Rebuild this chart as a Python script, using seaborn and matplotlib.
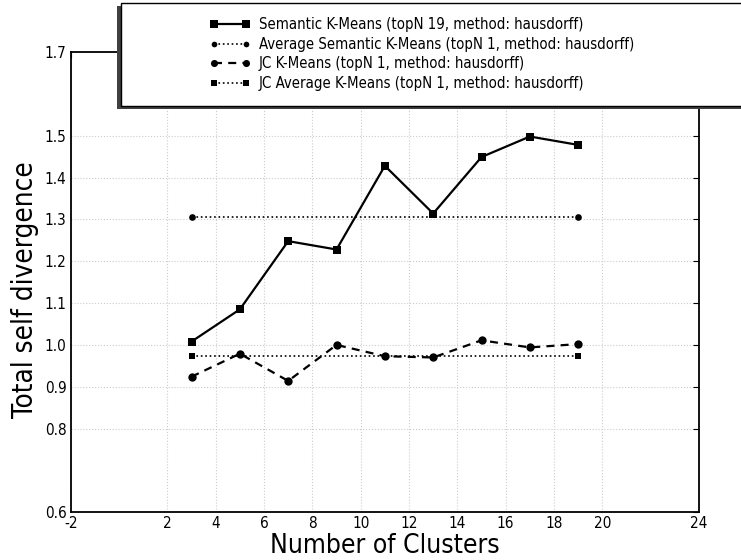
import matplotlib
matplotlib.use("Agg")
import matplotlib.pyplot as plt
from matplotlib.patches import Rectangle
import seaborn as sns

# ---- data ----
clusters = [3, 5, 7, 9, 11, 13, 15, 17, 19]
semantic_kmeans = [1.008, 1.085, 1.248, 1.228, 1.428, 1.314, 1.449, 1.498, 1.478]
jc_kmeans = [0.924, 0.979, 0.914, 1.000, 0.973, 0.970, 1.011, 0.994, 1.002]
avg_x = [3, 19]
avg_semantic = [1.305, 1.305]
avg_jc = [0.974, 0.974]

labels = [
    "Semantic K-Means (topN 19, method: hausdorff)",
    "Average Semantic K-Means (topN 1, method: hausdorff)",
    "JC K-Means (topN 1, method: hausdorff)",
    "JC Average K-Means (topN 1, method: hausdorff)",
]
xticks = [-2, 2, 4, 6, 8, 10, 12, 14, 16, 18, 20, 24]
yticks = [0.6, 0.8, 0.9, 1.0, 1.1, 1.2, 1.3, 1.4, 1.5, 1.7]
xlabel = "Number of Clusters"
ylabel = "Total self divergence"

sns.set_style("white")
plt.rcParams["font.family"] = ["DejaVu Sans"]
plt.rcParams["font.stretch"] = "condensed"
for k in ["text.color", "axes.labelcolor", "xtick.color", "ytick.color"]:
    plt.rcParams[k] = "black"

W, H = 741, 560
fig = plt.figure(figsize=(W / 100, H / 100), dpi=100)
ax = fig.add_axes([70.7 / W, 1 - 512.3 / H, (699 - 70.7) / W, (512.3 - 52) / H])

common = dict(ax=ax, color="black", markeredgecolor="black", markeredgewidth=0)
sns.lineplot(x=clusters, y=semantic_kmeans, marker="s", markersize=6.3,
             linewidth=1.6, linestyle="-", label=labels[0], **common)
sns.lineplot(x=avg_x, y=avg_semantic, marker="o", markersize=4.8,
             linewidth=1.2, linestyle=":", label=labels[1], **common)
sns.lineplot(x=clusters, y=jc_kmeans, marker="o", markersize=6.0,
             linewidth=1.6, linestyle=(0, (3.6, 2.8)), label=labels[2], **common)
sns.lineplot(x=avg_x, y=avg_jc, marker="s", markersize=4.8,
             linewidth=1.2, linestyle=":", label=labels[3], **common)

ax.set_xlim(-2, 24)
ax.set_ylim(0.6, 1.7)
ax.set_xticks(xticks)
ax.set_xticklabels([str(t) for t in xticks])
ax.set_yticks(yticks)
ax.set_yticklabels([f"{t:.1f}" for t in yticks])
ax.tick_params(direction="in", top=True, right=True, length=4, width=0.8,
               labelsize=11, pad=3, colors="black")
for s in ax.spines.values():
    s.set_linewidth(1.3)
    s.set_color("black")
ax.grid(True, color="#cccccc", linestyle=":", linewidth=0.8)
ax.set_axisbelow(True)
ax.set_xlabel(xlabel, fontsize=19, labelpad=1)
ax.set_ylabel(ylabel, fontsize=20)
ax.yaxis.set_label_coords(-0.050, 0.483)

handles, labs = ax.get_legend_handles_labels()
ax.get_legend().remove()

# legend box with shadow offset to lower-left
fig.add_artist(Rectangle((117 / W, 1 - 109 / H), (800 - 117) / W, (109 - 6) / H,
                         transform=fig.transFigure, facecolor="#404040",
                         edgecolor="none", zorder=3))
fig.add_artist(Rectangle((120.5 / W, 1 - 106 / H), (800 - 120.5) / W, (106 - 3.5) / H,
                         transform=fig.transFigure, facecolor="white",
                         edgecolor="black", linewidth=1, zorder=4))
leg = fig.legend(handles, labs, loc="upper left",
                 bbox_to_anchor=(210 / W, 1 - 17.5 / H),
                 frameon=False, fontsize=10.75, numpoints=2, markerscale=0.85,
                 handlelength=2.74, handletextpad=0.54, labelspacing=0.30,
                 borderpad=0, borderaxespad=0)
leg.set_zorder(5)

fig.savefig("out.png", dpi=100)
